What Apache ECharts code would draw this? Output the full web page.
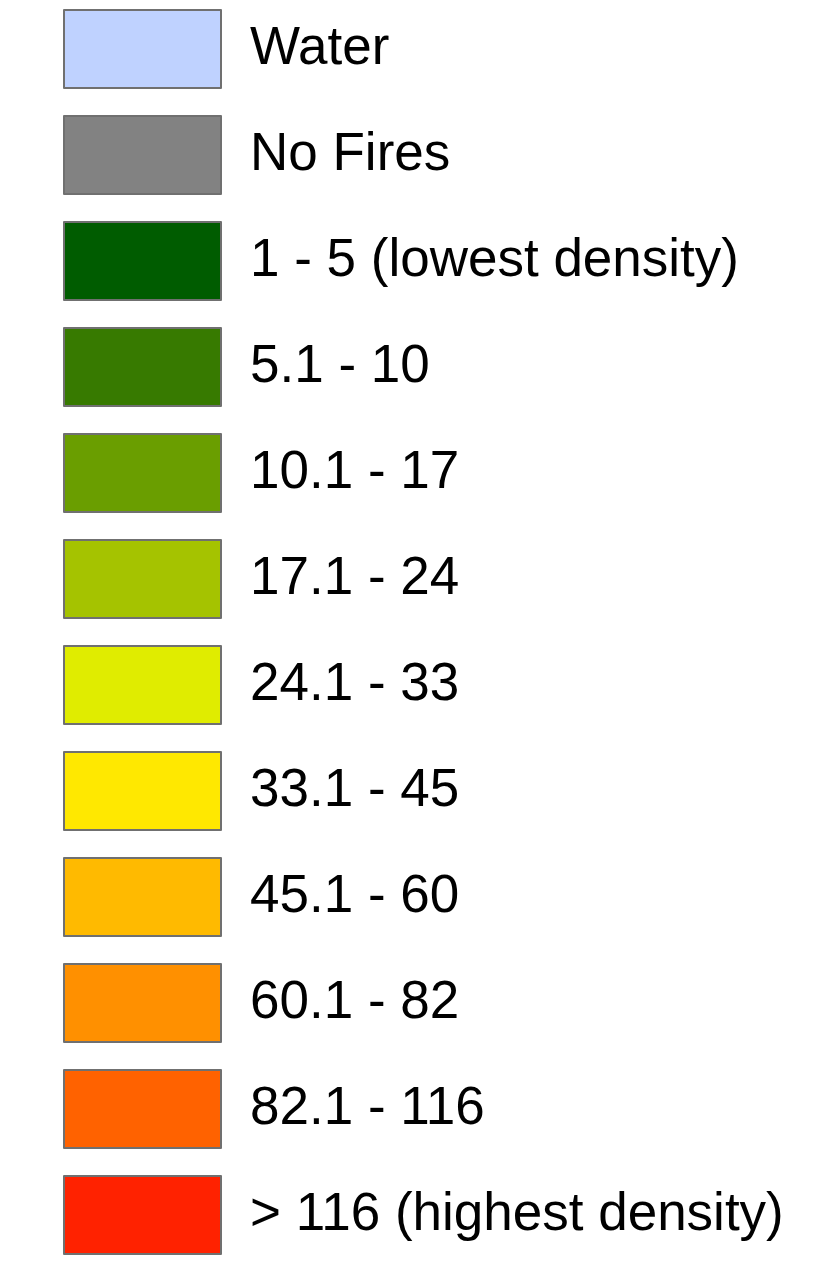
<!DOCTYPE html>
<html><head><meta charset="utf-8">
<script src="https://cdn.jsdelivr.net/npm/echarts@6/dist/echarts.min.js"></script>
<style>html,body{margin:0;padding:0;background:#fff}#c{width:818px;height:1268px}</style>
</head><body><div id="c"></div>
<script>
const classes = ['Water','No Fires','1 - 5 (lowest density)','5.1 - 10','10.1 - 17','17.1 - 24','24.1 - 33','33.1 - 45','45.1 - 60','60.1 - 82','82.1 - 116','> 116 (highest density)'];
const colors = ['#BFD2FF','#828282','#005C00','#377A00','#6A9E00','#A5C300','#E0EC00','#FFE800','#FFBA00','#FF9000','#FF6200','#FF2200'];
const chart = echarts.init(document.getElementById('c'));
chart.setOption({
  animation:false,
  legend:{
    orient:'vertical', left:63, top:9, height:1259, padding:0,
    icon:'rect', itemWidth:157, itemHeight:78, itemGap:26,
    selectedMode:false,
    itemStyle:{borderColor:'#707070', borderWidth:2},
    textStyle:{fontFamily:'Liberation Sans, Arial, sans-serif', fontSize:53, color:'#000', padding:[6,0,0,24]},
    data:classes
  },
  series:[{
    type:'pie', radius:[0,0], center:[-100,-100], silent:true,
    label:{show:false}, labelLine:{show:false},
    data:classes.map((n,i)=>({name:n, value:1, itemStyle:{color:colors[i]}}))
  }]
});
</script></body></html>
